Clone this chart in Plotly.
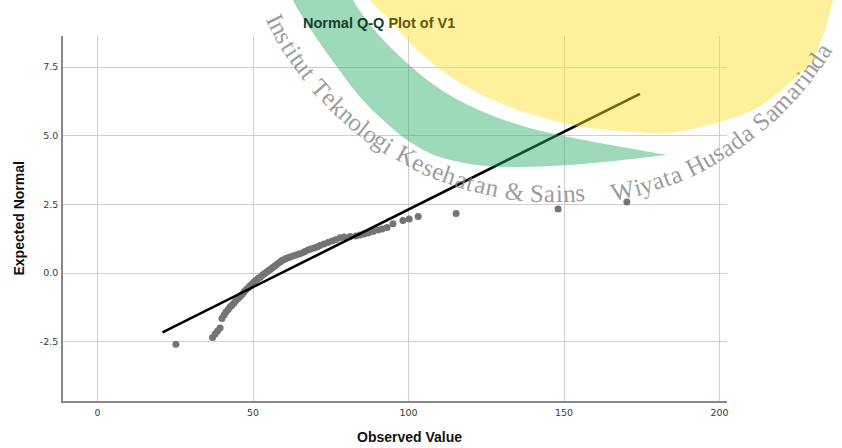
import math
import plotly.graph_objects as go

# Observed values (sorted) and their expected normal scores
observed = [25.2, 37.0, 37.8, 38.6, 39.4, 40.0, 40.7, 41.3, 42.0, 42.6,
            43.2, 43.9, 44.5, 45.2, 45.8, 46.5, 47.1, 47.7, 48.4, 49.0,
            49.7, 50.3, 51.0, 51.6, 52.3, 52.9, 53.5, 54.2, 54.8, 55.5,
            56.1, 56.8, 57.4, 58.0, 58.7, 59.3, 60.0, 60.6, 61.3, 61.9,
            62.8, 63.8, 64.8, 65.8, 66.7, 67.7, 68.6, 69.6, 70.6, 71.5,
            72.8, 74.1, 75.4, 76.7, 78.0, 79.3, 81.2, 83.1, 84.4, 85.7,
            87.0, 88.6, 90.2, 91.5, 93.1, 95.0, 98.2, 100.2, 103.1, 115.3,
            148.1, 170.2]
expected = [-2.59, -2.35, -2.22, -2.11, -2.00, -1.66, -1.53, -1.42, -1.33, -1.24,
            -1.17, -1.09, -1.00, -0.93, -0.86, -0.78, -0.69, -0.62, -0.55, -0.47,
            -0.40, -0.33, -0.26, -0.20, -0.15, -0.09, -0.04, 0.02, 0.07, 0.13,
            0.18, 0.24, 0.29, 0.35, 0.40, 0.46, 0.49, 0.53, 0.56, 0.58,
            0.62, 0.66, 0.69, 0.73, 0.78, 0.84, 0.87, 0.91, 0.95, 1.00,
            1.06, 1.11, 1.17, 1.22, 1.28, 1.31, 1.33, 1.35, 1.38, 1.42,
            1.46, 1.51, 1.57, 1.60, 1.66, 1.79, 1.91, 1.97, 2.06, 2.17,
            2.33, 2.59]

# Reference (normal) line end points
ref_x = [20.9, 174.4]
ref_y = [-2.16, 6.52]

x_ticks = [0, 50, 100, 150, 200]
x_tick_text = ["0", "50", "100", "150", "200"]
y_ticks = [-2.5, 0.0, 2.5, 5.0, 7.5]
y_tick_text = ["-2.5", "0.0", "2.5", "5.0", "7.5"]

title_part1 = "Normal Q-Q "
title_part2 = "Plot of V1"
x_title = "Observed Value"
y_title = "Expected Normal"

wm_text_lower = "Institut Teknologi Kesehatan & Sains"
wm_text_right = "Wiyata Husada Samarinda"

# ---- page geometry (pixels) ----
W, H = 842, 448
ML, MR, MT, MB = 63, 115, 36, 47
PW, PH = W - ML - MR, H - MT - MB


def to_paper(px, py):
    return (px - ML) / PW, (H - MB - py) / PH


def spline_segments(pts):
    """Catmull-Rom spline through pixel points -> list of SVG cubic segments (paper coords)."""
    P = [to_paper(*p) for p in pts]
    segs = []
    for i in range(len(P) - 1):
        p0 = P[i - 1] if i > 0 else P[i]
        p1, p2 = P[i], P[i + 1]
        p3 = P[i + 2] if i + 2 < len(P) else P[i + 1]
        c1 = (p1[0] + (p2[0] - p0[0]) / 6, p1[1] + (p2[1] - p0[1]) / 6)
        c2 = (p2[0] - (p3[0] - p1[0]) / 6, p2[1] - (p3[1] - p1[1]) / 6)
        segs.append(f"C {c1[0]:.4f},{c1[1]:.4f} {c2[0]:.4f},{c2[1]:.4f} {p2[0]:.4f},{p2[1]:.4f}")
    return P[0], segs


# Logo: yellow sun
sun_pts = [(358, -25), (370, 0), (390, 20), (410, 43), (437, 67), (467, 87),
           (500, 103), (540, 117), (583, 127), (633, 132), (670, 133),
           (700, 127), (727, 120), (753, 110), (773, 97), (793, 80),
           (807, 67), (815, 55), (825, 30), (833, 0), (838, -25)]
start, segs = spline_segments(sun_pts)
sun_path = f"M {start[0]:.4f},{start[1]:.4f} " + " ".join(segs) + " Z"

# Logo: green crescent
outer_pts = [(287, -25), (293, 0), (313, 33), (337, 67), (360, 97), (383, 120),
             (407, 140), (437, 156), (477, 165), (517, 167), (583, 164), (667, 155)]
inner_pts = [(667, 155), (600, 143), (550, 133), (510, 122), (470, 106),
             (437, 87), (407, 63), (377, 33), (353, 0), (345, -25)]
s1, segs1 = spline_segments(outer_pts)
_, segs2 = spline_segments(inner_pts)
crescent_path = f"M {s1[0]:.4f},{s1[1]:.4f} " + " ".join(segs1) + " " + " ".join(segs2) + " Z"

# Curved lettering around the logo
CX, CY = 555.0, -118.0
char_w = {"i": 0.3, "l": 0.3, "j": 0.3, "t": 0.33, "f": 0.33, "I": 0.35, "r": 0.38,
          "s": 0.42, "m": 0.8, "w": 0.75, "W": 0.95, "K": 0.72, "H": 0.75,
          "T": 0.62, "S": 0.56, "&": 0.78, " ": 0.3}


def arc_chars(text, th_first, th_last, radius, size):
    ws = [char_w.get(c, 0.5) for c in text]
    centers, pos = [], 0.0
    for w in ws:
        centers.append(pos + w / 2)
        pos += w
    anns = []
    for c, cpos in zip(text, centers):
        if c == " ":
            continue
        f = (cpos - centers[0]) / (centers[-1] - centers[0])
        th = th_first + (th_last - th_first) * f
        px = CX + radius * math.cos(math.radians(th))
        py = CY + radius * math.sin(math.radians(th))
        x, y = to_paper(px, py)
        anns.append(dict(
            x=x, y=y, xref="paper", yref="paper", showarrow=False,
            text="&amp;" if c == "&" else c, textangle=th - 90,
            xanchor="center", yanchor="middle",
            font=dict(family="Liberation Serif, serif",
                      size=size, color="rgba(130,130,130,0.8)"),
        ))
    return anns


fig = go.Figure()

fig.add_trace(go.Scatter(
    x=observed, y=expected, mode="markers",
    marker=dict(size=7, color="#747474", line=dict(width=0)),
    showlegend=False, hoverinfo="x+y",
))
fig.add_trace(go.Scatter(
    x=ref_x, y=ref_y, mode="lines",
    line=dict(color="#000000", width=2.6),
    showlegend=False, hoverinfo="skip",
))

grid = "#cfcfcf"
axis_line = "#888888"
tick_font = dict(family="DejaVu Sans, sans-serif", size=9.5, color="#3a3a3a")

fig.update_xaxes(
    range=[-11.1, 202.4], tickvals=x_ticks, ticktext=x_tick_text,
    showgrid=True, gridcolor=grid, gridwidth=1, zeroline=False,
    showline=True, linecolor=axis_line, linewidth=1.6,
    ticks="", ticklabelstandoff=2, tickfont=tick_font,
)
fig.update_yaxes(
    range=[-4.66, 8.63], tickvals=y_ticks, ticktext=y_tick_text,
    showgrid=True, gridcolor=grid, gridwidth=1, zeroline=False,
    showline=True, linecolor=axis_line, linewidth=1.6,
    ticks="", ticklabelstandoff=1, tickfont=tick_font,
)

annotations = []
tx, ty = to_paper(379, 23)
annotations.append(dict(
    x=tx, y=ty, xref="paper", yref="paper", showarrow=False,
    xanchor="center", yanchor="middle",
    text=f"<b><span style='color:#163d29'>{title_part1}</span>"
         f"<span style='color:#62580f'>{title_part2}</span></b>",
    font=dict(family="Liberation Sans, Arial, sans-serif", size=14.5, color="#111"),
))
ax_, ay_ = to_paper(409, 437)
annotations.append(dict(
    x=ax_, y=ay_, xref="paper", yref="paper", showarrow=False,
    xanchor="center", yanchor="middle", text=f"<b>{x_title}</b>",
    font=dict(family="Liberation Sans, Arial, sans-serif", size=14, color="#111"),
))
bx_, by_ = to_paper(18, 218.5)
annotations.append(dict(
    x=bx_, y=by_, xref="paper", yref="paper", showarrow=False, textangle=-90,
    xanchor="center", yanchor="middle", text=f"<b>{y_title}</b>",
    font=dict(family="Liberation Sans, Arial, sans-serif", size=14, color="#111"),
))
annotations += arc_chars(wm_text_lower, 154.0, 85.4, 312, 25)
annotations += arc_chars(wm_text_right, 77.6, 32.2, 316, 25)

fig.update_layout(
    width=W, height=H,
    margin=dict(l=ML, r=MR, t=MT, b=MB, pad=0),
    paper_bgcolor="white", plot_bgcolor="white",
    shapes=[
        dict(type="path", path=sun_path, xref="paper", yref="paper",
             fillcolor="rgb(250,224,40)", opacity=0.45, line=dict(width=0), layer="above"),
        dict(type="path", path=crescent_path, xref="paper", yref="paper",
             fillcolor="rgb(40,170,100)", opacity=0.45, line=dict(width=0), layer="above"),
    ],
    annotations=annotations,
)

fig.write_html("out.html")
